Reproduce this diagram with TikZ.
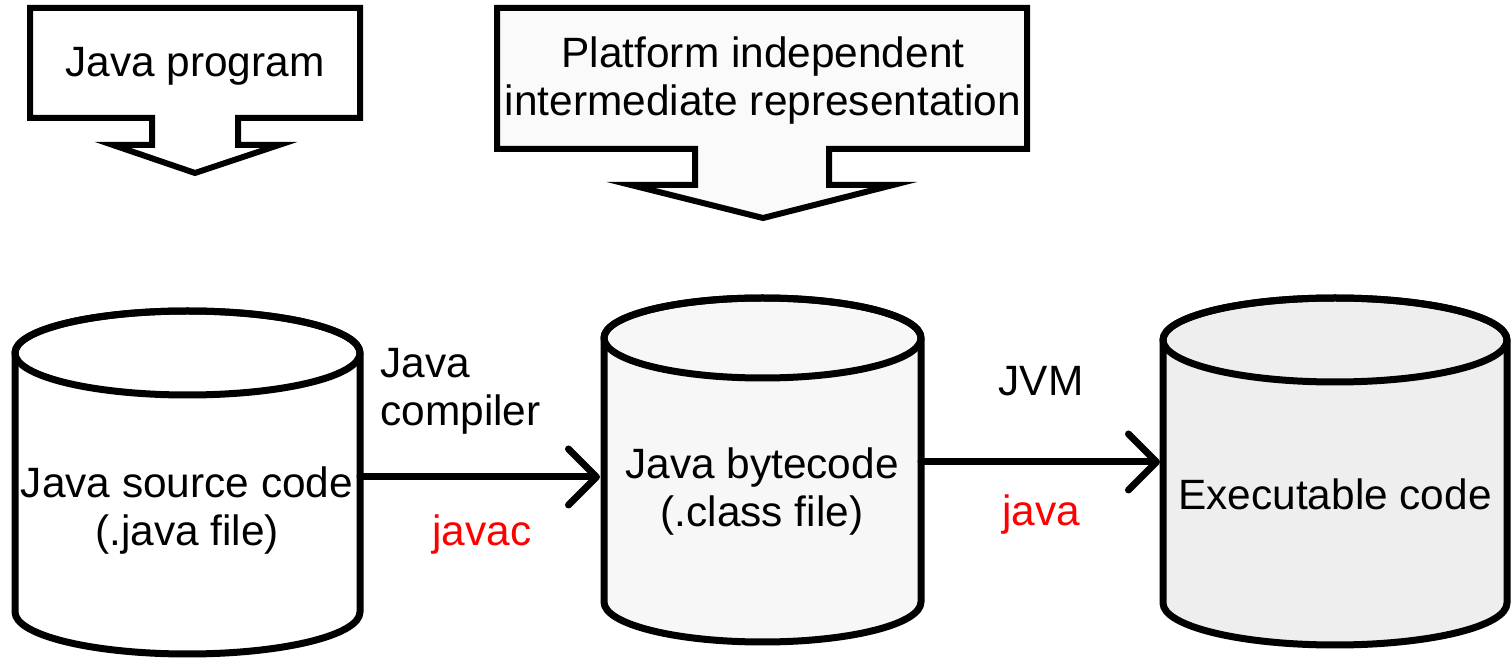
\documentclass[tikz,border=0pt]{standalone}
\usepackage{fontspec}
\setmainfont{Liberation Sans}
\usetikzlibrary{arrows.meta}
\definecolor{fillA}{HTML}{FAFAFA}
\definecolor{fillB}{HTML}{F7F7F7}
\definecolor{fillC}{HTML}{EEEEEE}
\definecolor{redtxt}{HTML}{FF0000}
% drum: #1 centre x, #2 x radius, #3 top-cap centre y, #4 bottom-cap centre y, #5 y radius, #6 fill
\newcommand\drumshape[6]{%
  \filldraw[drumline,fill=#6]
    ({#1-#2},#3) -- ({#1-#2},#4)
    arc[start angle=180,end angle=360,x radius=#2,y radius=#5]
    -- ({#1+#2},#3)
    arc[start angle=0,end angle=180,x radius=#2,y radius=#5] -- cycle;
  \draw[drumline] (#1,#3) ellipse[x radius=#2,y radius=#5];}
\begin{document}
\begin{tikzpicture}[x=0.5pt,y=0.5pt,
  drumline/.style={line width=3.5pt,line join=round},
  callout/.style={line width=3pt,line join=miter,miter limit=30},
  lbl/.style={font=\fontsize{21.2}{24}\selectfont,inner sep=0pt,align=center},
  flow/.style={line width=3.5pt,line cap=round,
    -{Straight Barb[length=14pt,width=28pt,line cap=round,line join=round]}}]
\useasboundingbox (0,0) rectangle (1511,659);

% callout arrows
\filldraw[callout,fill=white]
  (30,651) -- (360,651) -- (360,541) -- (238,541) -- (238,514) -- (279,514)
  -- (195,486) -- (113,514) -- (152,514) -- (152,541) -- (30,541) -- cycle;
\node[lbl] (prog) at (195,593) {Java program};

\filldraw[callout,fill=fillA]
  (497,651) -- (1027,651) -- (1027,510) -- (829,510) -- (829,474) -- (893,474)
  -- (763,441) -- (631,474) -- (695,474) -- (695,510) -- (497,510) -- cycle;
\node[lbl] (ir) at (763,578) {Platform independent\\intermediate representation};

% storage drums
\drumshape{187.5}{172.5}{306}{47}{42}{white}
\drumshape{762.5}{158.5}{321}{57}{40}{fillB}
\drumshape{1335}{172}{319}{56}{42}{fillC}

\node[lbl] (src) at (187,148) {Java source code\\(.java file)};
\node[lbl] (bc) at (762,167) {Java bytecode\\(.class file)};
\node[lbl] (exe) at (1335,165) {Executable code};

\coordinate (srcE) at (360,182);
\coordinate (bcW) at (600,182);
\coordinate (bcE) at (921,197);
\coordinate (exeW) at (1160,197);

\draw[flow] (srcE) -- (bcW);
\draw[flow] (bcE) -- (exeW);

\node[lbl,anchor=west,align=left] (jc) at (380,268) {Java\\compiler};
\node[lbl,text=redtxt] (javac) at (482,124) {javac};
\node[lbl] (jvm) at (1041,278) {JVM};
\node[lbl,text=redtxt] (java) at (1041,144) {java};
\end{tikzpicture}
\end{document}
